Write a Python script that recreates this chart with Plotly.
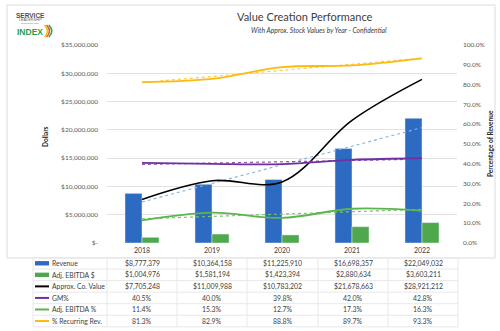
import numpy as np
import plotly.graph_objects as go

# ---- data ----
years = ["2018", "2019", "2020", "2021", "2022"]
revenue = [8777379, 10364158, 11225910, 16698357, 22049032]
ebitda_usd = [1004976, 1581194, 1423394, 2880634, 3603211]
co_value = [7705248, 11009988, 10783202, 21678663, 28921212]
gm_pct = [0.405, 0.400, 0.398, 0.420, 0.428]
ebitda_pct = [0.114, 0.153, 0.127, 0.173, 0.163]
recurring_pct = [0.813, 0.829, 0.888, 0.897, 0.933]

left_ticks = [0, 5e6, 10e6, 15e6, 20e6, 25e6, 30e6, 35e6]
right_ticks = [i / 10 for i in range(11)]

BLUE = "#2d6bc2"
GREEN = "#4fa84b"
BLACK = "#000000"
PURPLE = "#7030a0"
LGREEN = "#5cb450"
GOLD = "#fcbc0c"
TREND_BLUE = "#7fb2dc"
TXT = "#404040"
FONT = "Lato"

W, H = 500, 331
L, R, T, B = 107, 457, 45, 243


def fx(x):
    return (x - L) / (R - L)


def fy(y):
    return (B - y) / (B - T)


def trend(vals):
    idx = np.arange(len(vals))
    k, b = np.polyfit(idx, vals, 1)
    return list(k * idx + b)


def money(v):
    return "$-" if v == 0 else "${:,.0f}".format(v)


fig = go.Figure()

fig.add_bar(x=years, y=revenue, name="Revenue", marker_color=BLUE, yaxis="y")
fig.add_bar(x=years, y=ebitda_usd, name="Adj. EBITDA $", marker_color=GREEN, yaxis="y")

fig.add_scatter(x=years, y=trend(revenue), mode="lines", yaxis="y",
                line=dict(color=TREND_BLUE, width=1.1, dash="dot"), showlegend=False)
fig.add_scatter(x=years, y=co_value, mode="lines", yaxis="y", name="Approx. Co. Value",
                line=dict(color=BLACK, width=1.6, shape="spline", smoothing=1))

for vals, col in [(gm_pct, "#8a55b5"), (ebitda_pct, "#7cc070"), (recurring_pct, "#f8cc48")]:
    fig.add_scatter(x=years, y=trend(vals), mode="lines", yaxis="y2",
                    line=dict(color=col, width=1.2, dash="dot"), showlegend=False)
for vals, col, nm in [(gm_pct, PURPLE, "GM%"), (ebitda_pct, LGREEN, "Adj. EBITDA %"),
                      (recurring_pct, GOLD, "% Recurring Rev.")]:
    fig.add_scatter(x=years, y=vals, mode="lines", yaxis="y2", name=nm,
                    line=dict(color=col, width=1.8, shape="spline", smoothing=1))

shapes = []
annotations = []

# chart frame
shapes.append(dict(type="rect", xref="paper", yref="paper",
                   x0=fx(7), x1=fx(495), y0=fy(258), y1=fy(5),
                   line=dict(color="#dcdcdc", width=1), fillcolor="rgba(0,0,0,0)", layer="below"))

# data table under the axis
row_labels = ["Revenue", "Adj. EBITDA $", "Approx. Co. Value", "GM%", "Adj. EBITDA %", "% Recurring Rev."]
row_vals = [
    [money(v) for v in revenue],
    [money(v) for v in ebitda_usd],
    [money(v) for v in co_value],
    ["{:.1%}".format(v) for v in gm_pct],
    ["{:.1%}".format(v) for v in ebitda_pct],
    ["{:.1%}".format(v) for v in recurring_pct],
]
row_keys = [("bar", BLUE), ("bar", GREEN), ("line", BLACK), ("line", PURPLE),
            ("line", LGREEN), ("line", GOLD)]
top, rh = 257.5, 11.55
col_edges = [107, 177, 247, 318, 388, 458]
grid_col = "#e8e8e8"
for i in range(len(row_labels) + 1):
    y = top + i * rh
    shapes.append(dict(type="line", xref="paper", yref="paper",
                       x0=fx(33), x1=fx(458), y0=fy(y), y1=fy(y),
                       line=dict(color=grid_col, width=1)))
for xe in [33] + col_edges:
    shapes.append(dict(type="line", xref="paper", yref="paper",
                       x0=fx(xe), x1=fx(xe), y0=fy(top), y1=fy(top + 6 * rh),
                       line=dict(color=grid_col, width=1)))
for i, (lab, vals, key) in enumerate(zip(row_labels, row_vals, row_keys)):
    yc = top + (i + 0.5) * rh
    kind, col = key
    if kind == "bar":
        shapes.append(dict(type="rect", xref="paper", yref="paper",
                           x0=fx(35), x1=fx(49), y0=fy(yc + 2.2), y1=fy(yc - 2.2),
                           fillcolor=col, line=dict(width=0)))
    else:
        shapes.append(dict(type="line", xref="paper", yref="paper",
                           x0=fx(35), x1=fx(49), y0=fy(yc), y1=fy(yc),
                           line=dict(color=col, width=2)))
    annotations.append(dict(xref="paper", yref="paper", x=fx(49.5), y=fy(yc),
                            xanchor="left", yanchor="middle", text=lab, showarrow=False,
                            font=dict(size=6.8, color=TXT, family=FONT)))
    for j, v in enumerate(vals):
        xc = (col_edges[j] + col_edges[j + 1]) / 2
        annotations.append(dict(xref="paper", yref="paper", x=fx(xc), y=fy(yc),
                                xanchor="center", yanchor="middle", text=v, showarrow=False,
                                font=dict(size=6.9, color=TXT, family=FONT)))

# titles
annotations.append(dict(xref="paper", yref="paper", x=fx(305), y=fy(16), xanchor="center",
                        yanchor="middle", text="Value Creation Performance", showarrow=False,
                        font=dict(size=11, color=TXT, family=FONT)))
annotations.append(dict(xref="paper", yref="paper", x=fx(319), y=fy(30), xanchor="center",
                        yanchor="middle", text="<i>With Approx. Stock Values by Year - Confidential</i>",
                        showarrow=False, font=dict(size=6.8, color=TXT, family=FONT)))
annotations.append(dict(xref="paper", yref="paper", x=fx(45), y=fy(137), xanchor="center",
                        yanchor="middle", text="<b>Dollars</b>", textangle=-90, showarrow=False,
                        font=dict(size=6.5, color="#262626", family=FONT)))
annotations.append(dict(xref="paper", yref="paper", x=fx(490), y=fy(144), xanchor="center",
                        yanchor="middle", text="<b>Percentage of Revenue</b>", textangle=-90,
                        showarrow=False, font=dict(size=6.5, color="#262626", family=FONT)))

# logo
annotations.append(dict(xref="paper", yref="paper", x=fx(30), y=fy(15.5), xanchor="center",
                        yanchor="middle", text="<b>SERVICE</b>", showarrow=False,
                        font=dict(size=6.5, color="#505050", family="Liberation Sans Narrow, Liberation Sans")))
annotations.append(dict(xref="paper", yref="paper", x=fx(30), y=fy(20.3), xanchor="center",
                        yanchor="middle", text="LEADERSHIP", showarrow=False,
                        font=dict(size=3.6, color="#606060", family="Liberation Sans Narrow, Liberation Sans")))
annotations.append(dict(xref="paper", yref="paper", x=fx(30), y=fy(23.2), xanchor="center",
                        yanchor="middle", text="INCORPORATED", showarrow=False,
                        font=dict(size=2.2, color="#808080", family="Liberation Sans Narrow, Liberation Sans")))
annotations.append(dict(xref="paper", yref="paper", x=fx(30), y=fy(31.5), xanchor="center",
                        yanchor="middle", text="<b>INDEX</b>", showarrow=False,
                        font=dict(size=8.5, color="#2e9b47", family="Liberation Sans Narrow, Liberation Sans")))
for (x0, col, w) in [(44.5, "#f2c20f", 1.6), (46.5, "#e2592b", 1.6), (48.8, "#3ba04a", 1.6)]:
    path = "M {:.4f},{:.4f} Q {:.4f},{:.4f} {:.4f},{:.4f}".format(
        fx(x0), fy(25), fx(x0 + 6), fy(31), fx(x0), fy(37))
    shapes.append(dict(type="path", xref="paper", yref="paper", path=path,
                       line=dict(color=col, width=w)))

fig.update_layout(
    width=W, height=H,
    margin=dict(l=L, r=W - R, t=T, b=H - B),
    paper_bgcolor="white", plot_bgcolor="white",
    barmode="group", bargap=0.514, bargroupgap=0,
    showlegend=False,
    font=dict(family=FONT, color=TXT),
    xaxis=dict(type="category", showgrid=False, showline=False, ticks="",
               tickfont=dict(size=7, color=TXT, family=FONT), ticklabelstandoff=2),
    yaxis=dict(range=[0, 35e6], tickvals=left_ticks, ticktext=[money(v) for v in left_ticks],
               showgrid=True, gridcolor="#e2e2e2", gridwidth=1, zeroline=False,
               showline=False, ticks="", ticklabelstandoff=8,
               tickfont=dict(size=6.5, color="#595959", family=FONT)),
    yaxis2=dict(range=[0, 1], overlaying="y", side="right", tickvals=right_ticks,
                tickformat=".1%", showgrid=False, zeroline=False, showline=False,
                ticks="", ticklabelstandoff=5,
                tickfont=dict(size=6.5, color="#595959", family=FONT)),
    shapes=shapes,
    annotations=annotations,
)

fig.write_html("out.html")
